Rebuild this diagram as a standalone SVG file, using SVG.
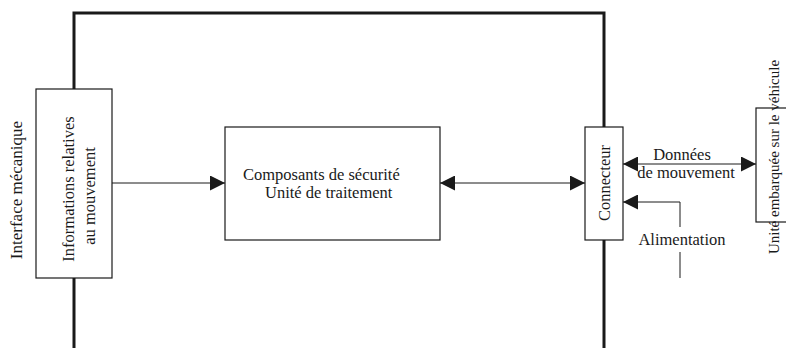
<svg xmlns="http://www.w3.org/2000/svg" width="786" height="348" viewBox="0 0 786 348">
<defs>
<style>
.frame{fill:none;stroke:#1a1a1a;stroke-width:3}
.box{fill:#fff;stroke:#1a1a1a;stroke-width:1.2}
.ln{fill:none;stroke:#1a1a1a;stroke-width:1}
text{font-family:"Liberation Serif","Times New Roman",serif;font-size:16.5px;fill:#1a1a1a}
</style>
<marker id="ah" viewBox="0 0 10 10" refX="10" refY="5" markerWidth="15" markerHeight="15" markerUnits="userSpaceOnUse" orient="auto-start-reverse">
<path d="M0,0 L10,5 L0,10 Z" fill="#1a1a1a"/>
</marker>
</defs>
<g id="frame">
<polyline class="frame" points="74,348 74,13 604,13 604,348"/>
</g>
<g id="connectors">
<line class="ln" x1="112" y1="183" x2="225" y2="183" marker-end="url(#ah)"/>
<line class="ln" x1="440" y1="183" x2="585" y2="183" marker-start="url(#ah)" marker-end="url(#ah)"/>
<line class="ln" x1="623" y1="164" x2="756" y2="164" marker-start="url(#ah)" marker-end="url(#ah)"/>
<polyline class="ln" points="680,227 680,202 623,202" marker-end="url(#ah)"/>
<line class="ln" x1="680" y1="252" x2="680" y2="278"/>
</g>
<g id="interface">
<text transform="translate(22,190) rotate(-90)" text-anchor="middle" style="font-size:17px">Interface mécanique</text>
</g>
<g id="informations">
<rect class="box" x="36" y="89" width="76" height="189"/>
<text transform="translate(74,189) rotate(-90)" text-anchor="middle"><tspan x="0" y="0">Informations relatives</tspan><tspan x="-7" y="21">au mouvement</tspan></text>
</g>
<g id="composants">
<rect class="box" x="225" y="127" width="215" height="113"/>
<text x="243" y="180">Composants de sécurité</text>
<text x="265" y="198">Unité de traitement</text>
</g>
<g id="connecteur">
<rect class="box" x="585" y="127" width="38" height="113"/>
<text transform="translate(610,183) rotate(-90)" text-anchor="middle">Connecteur</text>
</g>
<g id="donnees">
<text x="682" y="160" text-anchor="middle">Données</text>
<text x="686" y="178" text-anchor="middle">de mouvement</text>
</g>
<g id="alimentation">
<text x="682" y="245" text-anchor="middle">Alimentation</text>
</g>
<g id="unite">
<rect class="box" x="756" y="108" width="40" height="114"/>
<text transform="translate(779,157) rotate(-90)" text-anchor="middle" style="font-size:15px">Unité embarquée sur le véhicule</text>
</g>
</svg>
